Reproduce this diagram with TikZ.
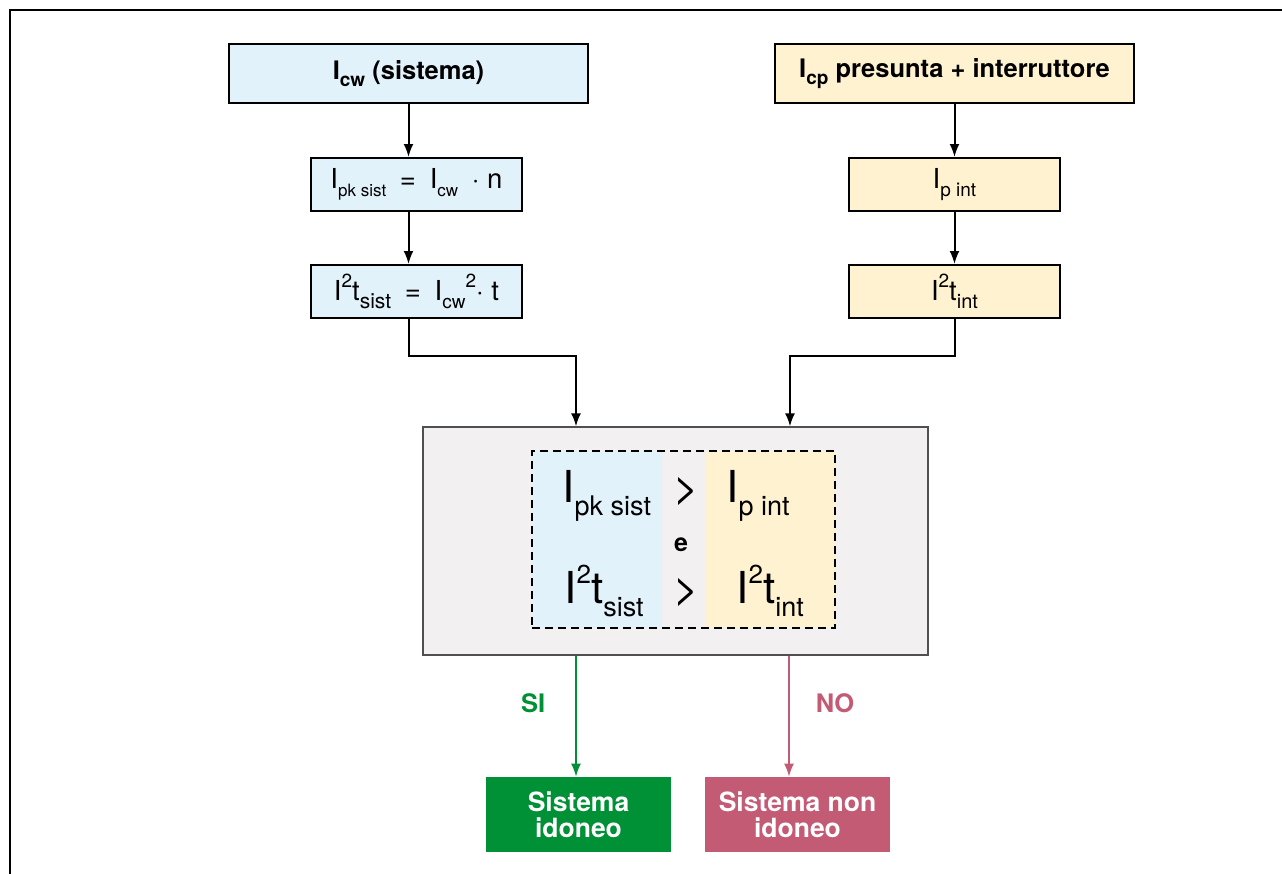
\documentclass[tikz,border=0pt]{standalone}
\usepackage{fontspec}
\setmainfont{TeX Gyre Heros}
\usepackage{tikz}
\usetikzlibrary{
  arrows.meta,
  calc,
  positioning
}
\definecolor{IdoBlueFill}{HTML}{E2F2FB}
\definecolor{IdoYellowFill}{HTML}{FFF2D0}
\definecolor{IdoGrayFill}{HTML}{F2F0F1}
\definecolor{IdoGreen}{HTML}{009036}
\definecolor{IdoRose}{HTML}{C35B75}
\definecolor{IdoEdge}{HTML}{505050}
\newcommand{\lowtext}[2][8.5]{\raisebox{-0.3em}{\fontsize{#1}{#1}\selectfont #2}}
\newcommand{\hightext}[2][9.5]{\raisebox{0.44em}{\fontsize{#1}{#1}\selectfont #2}}
\tikzset{
  >=Latex,
  every node/.style = {text=black},
  head box/.style = {
    draw=black,
    line width=1pt,
    minimum width=179.5pt,
    minimum height=29.5pt,
    inner sep=0pt,
    font=\fontsize{12.75}{14}\selectfont\bfseries
  },
  calc box/.style = {
    draw=black,
    line width=1pt,
    minimum width=105.5pt,
    minimum height=26.5pt,
    inner sep=0pt,
    font=\fontsize{13.75}{15}\selectfont
  },
  sys side/.style = {fill=IdoBlueFill},
  int side/.style = {fill=IdoYellowFill},
  check box/.style = {
    draw=IdoEdge,
    fill=IdoGrayFill,
    line width=0.6pt,
    minimum width=252.5pt,
    minimum height=114pt
  },
  compare box/.style = {
    draw=black,
    line width=1pt,
    dash pattern=on 4pt off 2.5pt,
    minimum width=151.5pt,
    minimum height=88.5pt
  },
  big term/.style = {
    anchor=base west,
    inner sep=0pt,
    font=\fontsize{22}{24}\selectfont
  },
  result box/.style = {
    minimum width=92.5pt,
    minimum height=37.5pt,
    inner sep=0pt,
    align=center,
    text=white,
    font=\fontsize{13.25}{13}\selectfont\bfseries
  },
  answer/.style = {font=\fontsize{12.75}{14}\selectfont\bfseries, inner sep=0pt},
  flow/.style = {-{Latex[length=6.5pt,width=5pt]}, draw=black, line width=1pt},
  flow yes/.style = {flow, draw=IdoGreen, line width=0.8pt},
  flow no/.style = {flow, draw=IdoRose, line width=0.8pt},
  frame/.style = {draw=black, line width=0.8pt}
}

\begin{document}
\begin{tikzpicture}[x=0.5pt,y=-0.5pt]
  \useasboundingbox (0,0) rectangle (1282,874);
  \draw[frame] (1282,10) -- (10,10) -- (10,874);

  \node[head box, sys side] (hdrsys) at (408.5,73.5) {I\lowtext[9.5]{cw} (sistema)};
  \node[head box, int side] (hdrint) at (954.5,73.5) {I\lowtext[9.5]{cp} presunta + interruttore};

  \node[calc box, sys side] (pksys) at (416.5,184.5) {I\lowtext{pk sist}\enskip=\enskip I\lowtext{cw}\enskip· n};
  \node[calc box, sys side] (i2tsys) at (416.5,291.5) {I\hightext{2}t\lowtext[10.5]{sist}\enskip=\enskip I\lowtext[9.5]{cw}\hightext{2}· t};
  \node[calc box, int side] (pint) at (954.5,184.5) {I\lowtext[9.5]{p int}};
  \node[calc box, int side] (i2tint) at (954.5,291.5) {I\hightext{2}t\lowtext[10]{int}};

  \node[check box] (check) at (675.5,541) {};
  \node[sys side, minimum width=65pt, minimum height=88.5pt, inner sep=0pt] (sysside) at (597,539.5) {};
  \node[int side, minimum width=64.5pt, minimum height=88.5pt, inner sep=0pt] (intside) at (770.5,539.5) {};
  \node[compare box] (cmp) at (683.5,539.5) {};

  \node[big term] (pkbig) at (562,502) {I\lowtext[13.5]{pk sist}};
  \node[big term] (gt1) at (673,502) {>};
  \node[big term] (pbig) at (726,502) {I\lowtext[13.5]{p int}};
  \node[font=\fontsize{12.5}{14}\selectfont\bfseries, inner sep=0pt, anchor=base] (andword) at (681,551) {e};
  \node[big term] (i2tbig) at (564,603) {I\hightext[13]{2}t\lowtext[13.5]{sist}};
  \node[big term] (gt2) at (673,603) {>};
  \node[big term] (i2tintbig) at (736,603) {I\hightext[13]{2}t\lowtext[13.5]{int}};

  \node[result box, fill=IdoGreen] (okbox) at (578.5,814.5) {Sistema\\idoneo};
  \node[result box, fill=IdoRose] (kobox) at (797.5,814.5) {Sistema non\\idoneo};

  \coordinate (insys) at ($(check.north)+(-99.5,0)$);
  \coordinate (inint) at ($(check.north)+(114.5,0)$);
  \coordinate (outok) at ($(check.south)+(-99.5,0)$);
  \coordinate (outko) at ($(check.south)+(113.5,0)$);

  \draw[flow] (hdrsys.south) -- (hdrsys.south |- pksys.north);
  \draw[flow] (pksys.south -| hdrsys.south) -- (hdrsys.south |- i2tsys.north);
  \draw[flow] (hdrint.south) -- (hdrint.south |- pint.north);
  \draw[flow] (pint.south) -- (i2tint.north);

  \draw[flow] (i2tsys.south -| hdrsys.south) -- ++(0,37) -| (insys);
  \draw[flow] (i2tint.south) -- ++(0,37) -| (inint);

  \draw[flow yes] (outok) -- node[answer, text=IdoGreen, pos=0.39, left=15pt] {SI} (outok |- okbox.north);
  \draw[flow no] (outko) -- node[answer, text=IdoRose, pos=0.39, right=13pt] {NO} (outko |- kobox.north);
\end{tikzpicture}
\end{document}
